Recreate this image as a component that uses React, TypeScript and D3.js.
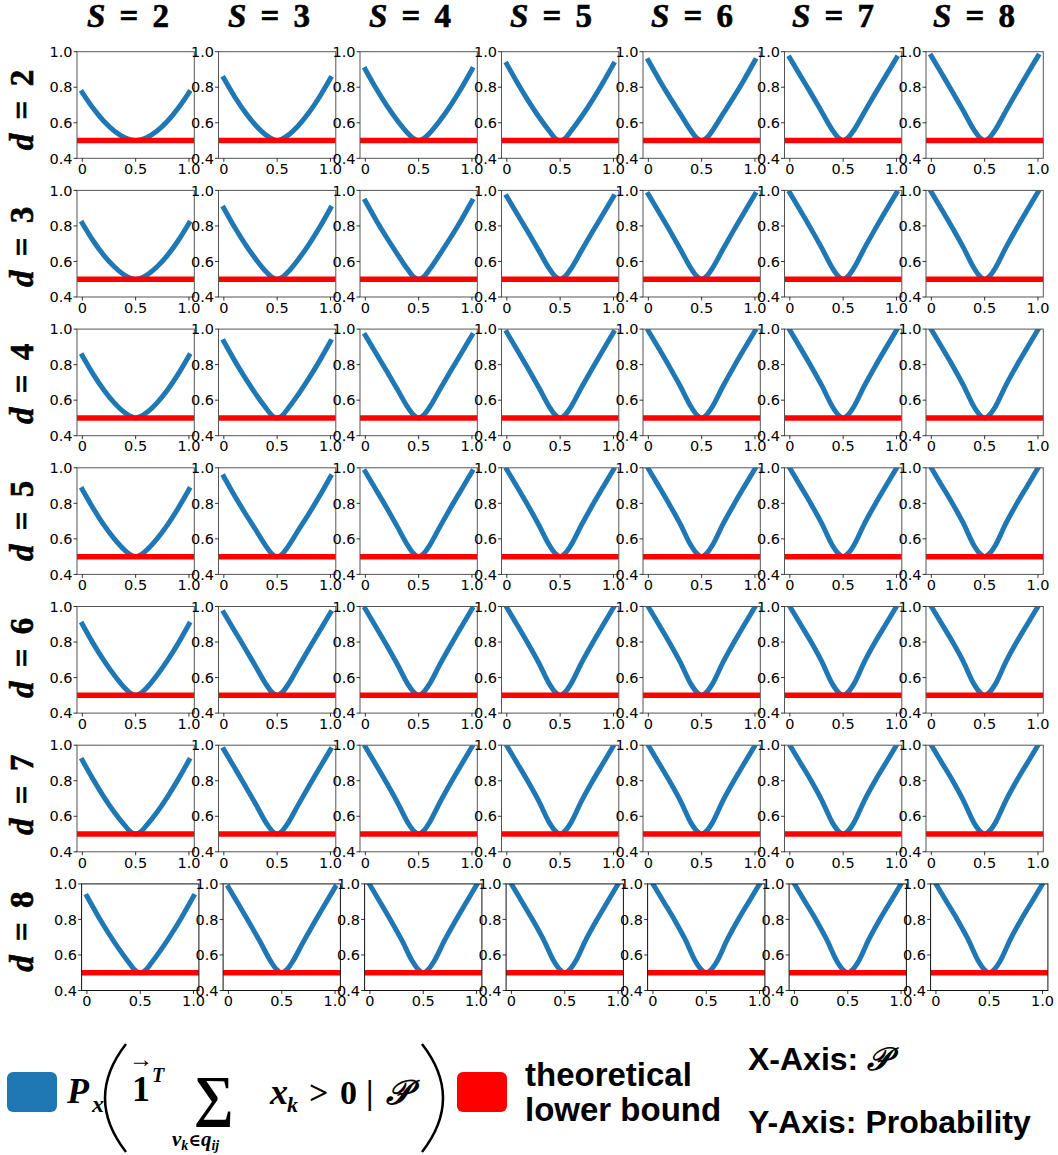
import React from "react";
import * as d3 from "d3";

// ---------- data ----------
const sValues = [2, 3, 4, 5, 6, 7, 8];
const dValues = [2, 3, 4, 5, 6, 7, 8];
const xGrid = [0, 0.1, 0.2, 0.3, 0.4, 0.45, 0.5, 0.55, 0.6, 0.7, 0.8, 0.9, 1.0];
const lowerBound = 0.5;
const xTicks = [0, 0.5, 1.0];
const xTickLabels = ["0", "0.5", "1.0"];
const yTicks = [0.4, 0.6, 0.8, 1.0];
const yTickLabels = ["0.4", "0.6", "0.8", "1.0"];

// probability curves, one array per S (values read at xGrid), for each d
const curvesD2 = [
  [0.770, 0.683, 0.610, 0.554, 0.516, 0.505, 0.500, 0.505, 0.516, 0.554, 0.610, 0.683, 0.770],
  [0.850, 0.748, 0.659, 0.585, 0.529, 0.510, 0.500, 0.510, 0.529, 0.585, 0.659, 0.748, 0.850],
  [0.900, 0.794, 0.698, 0.613, 0.540, 0.512, 0.500, 0.512, 0.540, 0.613, 0.698, 0.794, 0.900],
  [0.930, 0.824, 0.725, 0.634, 0.552, 0.514, 0.500, 0.514, 0.552, 0.634, 0.725, 0.824, 0.930],
  [0.950, 0.844, 0.744, 0.650, 0.555, 0.516, 0.500, 0.516, 0.555, 0.650, 0.744, 0.844, 0.950],
  [0.965, 0.864, 0.764, 0.661, 0.558, 0.518, 0.500, 0.518, 0.558, 0.661, 0.764, 0.864, 0.965],
  [0.975, 0.874, 0.772, 0.667, 0.560, 0.519, 0.500, 0.519, 0.560, 0.667, 0.772, 0.874, 0.975],
];
const curvesD3 = [
  [0.815, 0.718, 0.636, 0.570, 0.522, 0.507, 0.500, 0.507, 0.522, 0.570, 0.636, 0.718, 0.815],
  [0.900, 0.794, 0.698, 0.613, 0.540, 0.512, 0.500, 0.512, 0.540, 0.613, 0.698, 0.794, 0.900],
  [0.940, 0.834, 0.735, 0.642, 0.553, 0.515, 0.500, 0.515, 0.553, 0.642, 0.735, 0.834, 0.940],
  [0.965, 0.864, 0.764, 0.661, 0.558, 0.518, 0.500, 0.518, 0.558, 0.661, 0.764, 0.864, 0.965],
  [0.978, 0.877, 0.775, 0.669, 0.561, 0.519, 0.500, 0.519, 0.561, 0.669, 0.775, 0.877, 0.978],
  [0.986, 0.885, 0.782, 0.675, 0.562, 0.520, 0.500, 0.520, 0.562, 0.675, 0.782, 0.885, 0.986],
  [0.991, 0.890, 0.787, 0.679, 0.563, 0.520, 0.500, 0.520, 0.563, 0.679, 0.787, 0.890, 0.991],
];
const curvesD4 = [
  [0.850, 0.748, 0.659, 0.585, 0.529, 0.510, 0.500, 0.510, 0.529, 0.585, 0.659, 0.748, 0.850],
  [0.930, 0.824, 0.725, 0.634, 0.552, 0.514, 0.500, 0.514, 0.552, 0.634, 0.725, 0.824, 0.930],
  [0.965, 0.864, 0.764, 0.661, 0.558, 0.518, 0.500, 0.518, 0.558, 0.661, 0.764, 0.864, 0.965],
  [0.981, 0.880, 0.777, 0.671, 0.561, 0.519, 0.500, 0.519, 0.561, 0.671, 0.777, 0.880, 0.981],
  [0.990, 0.889, 0.786, 0.678, 0.563, 0.520, 0.500, 0.520, 0.563, 0.678, 0.786, 0.889, 0.990],
  [0.994, 0.893, 0.790, 0.682, 0.563, 0.520, 0.500, 0.520, 0.563, 0.682, 0.790, 0.893, 0.994],
  [0.997, 0.896, 0.794, 0.685, 0.563, 0.520, 0.500, 0.520, 0.563, 0.685, 0.794, 0.896, 0.997],
];
const curvesD5 = [
  [0.878, 0.774, 0.680, 0.600, 0.535, 0.511, 0.500, 0.511, 0.535, 0.600, 0.680, 0.774, 0.878],
  [0.950, 0.844, 0.744, 0.650, 0.555, 0.516, 0.500, 0.516, 0.555, 0.650, 0.744, 0.844, 0.950],
  [0.978, 0.877, 0.775, 0.669, 0.561, 0.519, 0.500, 0.519, 0.561, 0.669, 0.775, 0.877, 0.978],
  [0.990, 0.889, 0.786, 0.678, 0.563, 0.520, 0.500, 0.520, 0.563, 0.678, 0.786, 0.889, 0.990],
  [0.995, 0.894, 0.791, 0.683, 0.563, 0.520, 0.500, 0.520, 0.563, 0.683, 0.791, 0.894, 0.995],
  [0.998, 0.897, 0.795, 0.686, 0.563, 0.520, 0.500, 0.520, 0.563, 0.686, 0.795, 0.897, 0.998],
  [0.999, 0.898, 0.797, 0.688, 0.563, 0.520, 0.500, 0.520, 0.563, 0.688, 0.797, 0.898, 0.999],
];
const curvesD6 = [
  [0.900, 0.794, 0.698, 0.613, 0.540, 0.512, 0.500, 0.512, 0.540, 0.613, 0.698, 0.794, 0.900],
  [0.965, 0.864, 0.764, 0.661, 0.558, 0.518, 0.500, 0.518, 0.558, 0.661, 0.764, 0.864, 0.965],
  [0.986, 0.885, 0.782, 0.675, 0.562, 0.520, 0.500, 0.520, 0.562, 0.675, 0.782, 0.885, 0.986],
  [0.994, 0.893, 0.790, 0.682, 0.563, 0.520, 0.500, 0.520, 0.563, 0.682, 0.790, 0.893, 0.994],
  [0.998, 0.897, 0.795, 0.686, 0.563, 0.520, 0.500, 0.520, 0.563, 0.686, 0.795, 0.897, 0.998],
  [1.000, 0.900, 0.800, 0.690, 0.563, 0.520, 0.500, 0.520, 0.563, 0.690, 0.800, 0.900, 1.000],
  [1.000, 0.900, 0.800, 0.690, 0.563, 0.520, 0.500, 0.520, 0.563, 0.690, 0.800, 0.900, 1.000],
];
const curvesD7 = [
  [0.915, 0.809, 0.711, 0.623, 0.547, 0.513, 0.500, 0.513, 0.547, 0.623, 0.711, 0.809, 0.915],
  [0.975, 0.874, 0.772, 0.667, 0.560, 0.519, 0.500, 0.519, 0.560, 0.667, 0.772, 0.874, 0.975],
  [0.991, 0.890, 0.787, 0.679, 0.563, 0.520, 0.500, 0.520, 0.563, 0.679, 0.787, 0.890, 0.991],
  [0.997, 0.896, 0.794, 0.685, 0.563, 0.520, 0.500, 0.520, 0.563, 0.685, 0.794, 0.896, 0.997],
  [0.999, 0.898, 0.797, 0.688, 0.563, 0.520, 0.500, 0.520, 0.563, 0.688, 0.797, 0.898, 0.999],
  [1.000, 0.900, 0.800, 0.690, 0.563, 0.520, 0.500, 0.520, 0.563, 0.690, 0.800, 0.900, 1.000],
  [1.000, 0.900, 0.800, 0.690, 0.563, 0.520, 0.500, 0.520, 0.563, 0.690, 0.800, 0.900, 1.000],
];
const curvesD8 = [
  [0.930, 0.824, 0.725, 0.634, 0.552, 0.514, 0.500, 0.514, 0.552, 0.634, 0.725, 0.824, 0.930],
  [0.981, 0.880, 0.777, 0.671, 0.561, 0.519, 0.500, 0.519, 0.561, 0.671, 0.777, 0.880, 0.981],
  [0.994, 0.893, 0.790, 0.682, 0.563, 0.520, 0.500, 0.520, 0.563, 0.682, 0.790, 0.893, 0.994],
  [0.999, 0.898, 0.797, 0.688, 0.563, 0.520, 0.500, 0.520, 0.563, 0.688, 0.797, 0.898, 0.999],
  [1.000, 0.900, 0.800, 0.690, 0.563, 0.520, 0.500, 0.520, 0.563, 0.690, 0.800, 0.900, 1.000],
  [1.000, 0.900, 0.800, 0.690, 0.563, 0.520, 0.500, 0.520, 0.563, 0.690, 0.800, 0.900, 1.000],
  [1.000, 0.900, 0.800, 0.690, 0.563, 0.520, 0.500, 0.520, 0.563, 0.690, 0.800, 0.900, 1.000],
];
const curveRows = [curvesD2, curvesD3, curvesD4, curvesD5, curvesD6, curvesD7, curvesD8];

// ---------- layout ----------
const W = 1058;
const H = 1155;
const LEFT0 = 77;
const COL_STEP = 141.5;
const PW = 117.3;
const TOP0 = 51.7;
const ROW_STEP = 138.7;
const PH = 106.6;
const LAST_ROW_SHIFT = 4.6;

const BLUE = "#1f77b4";
const RED = "#ff0000";
const SERIF = "'Liberation Serif', 'DejaVu Serif', serif";
const SANS = "'Liberation Sans', Arial, sans-serif";
const TICKFONT = "'DejaVu Sans', sans-serif";

const xScale = d3.scaleLinear().domain([-0.05, 1.05]).range([0, PW]);
const yScale = d3.scaleLinear().domain([0.4, 1.0]).range([PH, 0]);
const lineGen = d3
  .line<number>()
  .x((_, i) => xScale(xGrid[i]))
  .y((v) => yScale(v))
  .curve(d3.curveMonotoneX);

function Panel({ r, c, values }: { r: number; c: number; values: number[] }) {
  const left = LEFT0 + c * COL_STEP + (r === dValues.length - 1 ? LAST_ROW_SHIFT : 0);
  const top = TOP0 + r * ROW_STEP;
  const clipId = `clip-${r}-${c}`;
  const [x0, x1] = xScale.range();
  const spine = r === dValues.length - 1 ? "#111" : "#555";
  return (
    <g transform={`translate(${left},${top})`}>
      <defs>
        <clipPath id={clipId}>
          <rect x={0} y={0} width={PW} height={PH} />
        </clipPath>
      </defs>
      <g clipPath={`url(#${clipId})`}>
        <path
          d={lineGen(values) || ""}
          fill="none"
          stroke={BLUE}
          strokeWidth={5}
          strokeLinecap="square"
          strokeLinejoin="round"
        />
        <line
          x1={x0}
          x2={x1}
          y1={yScale(lowerBound)}
          y2={yScale(lowerBound)}
          stroke={RED}
          strokeWidth={5.5}
        />
      </g>
      <rect x={0} y={0} width={PW} height={PH} fill="none" stroke={spine} strokeWidth={1} />
      {yTicks.map((t, i) => (
        <g key={`y${i}`}>
          <line x1={-3.5} x2={0} y1={yScale(t)} y2={yScale(t)} stroke="#000" strokeWidth={0.8} />
          <text
            x={-4.5}
            y={yScale(t)}
            dy="0.36em"
            textAnchor="end"
            fontFamily={TICKFONT}
            fontSize={14.5}
            fill="#000"
          >
            {yTickLabels[i]}
          </text>
        </g>
      ))}
      {xTicks.map((t, i) => (
        <g key={`x${i}`}>
          <line x1={xScale(t)} x2={xScale(t)} y1={PH} y2={PH + 3.5} stroke="#000" strokeWidth={0.8} />
          <text
            x={xScale(t)}
            y={PH + 15.8}
            textAnchor="middle"
            fontFamily={TICKFONT}
            fontSize={14.5}
            fill="#000"
          >
            {xTickLabels[i]}
          </text>
        </g>
      ))}
    </g>
  );
}

export default function App() {
  return (
    <svg
      width={W}
      height={H}
      viewBox={`0 0 ${W} ${H}`}
      style={{ position: "absolute", left: 0, top: 0, background: "#fff" }}
    >
      <rect x={0} y={0} width={W} height={H} fill="#fff" />
      {/* column headers */}
      {sValues.map((s, c) => (
        <text
          key={`h${c}`}
          x={128 + c * 141}
          y={27}
          textAnchor="middle"
          fontFamily={SERIF}
          fontWeight="bold"
          fontSize={33}
          stroke="#000"
          strokeWidth={0.6}
          style={{ wordSpacing: "6px" }}
        >
          <tspan fontStyle="italic">S</tspan>
          <tspan>{` = ${s}`}</tspan>
        </text>
      ))}
      {/* row labels */}
      {dValues.map((d, r) => (
        <text
          key={`r${r}`}
          transform={`translate(33,${110 + r * 136.95}) rotate(-90)`}
          textAnchor="middle"
          fontFamily={SERIF}
          fontWeight="bold"
          fontSize={33}
          stroke="#000"
          strokeWidth={0.6}
          style={{ wordSpacing: "6px" }}
        >
          <tspan fontStyle="italic">d</tspan>
          <tspan>{` = ${d}`}</tspan>
        </text>
      ))}
      {/* panels */}
      {curveRows.map((row, r) =>
        row.map((vals, c) => <Panel key={`p${r}-${c}`} r={r} c={c} values={vals} />)
      )}

      {/* legend */}
      <rect x={7} y={1072} width={50} height={40} rx={6} fill={BLUE} />
      <g fontFamily={SERIF} fontWeight="bold" fill="#000">
        <text x={67} y={1103} fontSize={36} fontStyle="italic">P</text>
        <text x={92} y={1112} fontSize={24} fontStyle="italic">x</text>
        <path d="M126,1044 Q84,1098 126,1152" fill="none" stroke="#000" strokeWidth={2.5} />
        <text x={132} y={1101} fontSize={36}>1</text>
        <text x={141} y={1067} fontSize={24} textAnchor="middle" fontWeight="normal">→</text>
        <text x={152} y={1082} fontSize={20} fontStyle="italic">T</text>
        <text x={214} y={1115} fontSize={56} textAnchor="middle">∑</text>
        <text x={172} y={1146} fontSize={21} fontStyle="italic">
          v<tspan fontSize={14} dy={4}>k</tspan>
          <tspan fontSize={17} dy={-4} fontStyle="normal">∈</tspan>
          <tspan fontSize={21}>q</tspan>
          <tspan fontSize={14} dy={4}>ij</tspan>
        </text>
        <text x={270} y={1104} fontSize={36} fontStyle="italic">x</text>
        <text x={287} y={1112} fontSize={22} fontStyle="italic">k</text>
        <text x={309} y={1104} fontSize={34}>&gt;</text>
        <text x={340} y={1104} fontSize={34}>0</text>
        <text x={366} y={1104} fontSize={34}>|</text>
        <text x={386} y={1104} fontSize={34} fontStyle="italic">𝒫</text>
        <path d="M422,1044 Q464,1098 422,1152" fill="none" stroke="#000" strokeWidth={2.5} />
      </g>
      <rect x={457} y={1072} width={50} height={40} rx={6} fill={RED} />
      <g fontFamily={SANS} fontWeight="bold" fill="#000">
        <text x={525} y={1086} fontSize={33}>theoretical</text>
        <text x={525} y={1121} fontSize={33}>lower bound</text>
        <text x={748} y={1070} fontSize={32}>
          X-Axis: <tspan fontFamily={SERIF} fontStyle="italic">𝒫</tspan>
        </text>
        <text x={748} y={1133} fontSize={32}>Y-Axis: Probability</text>
      </g>
    </svg>
  );
}
